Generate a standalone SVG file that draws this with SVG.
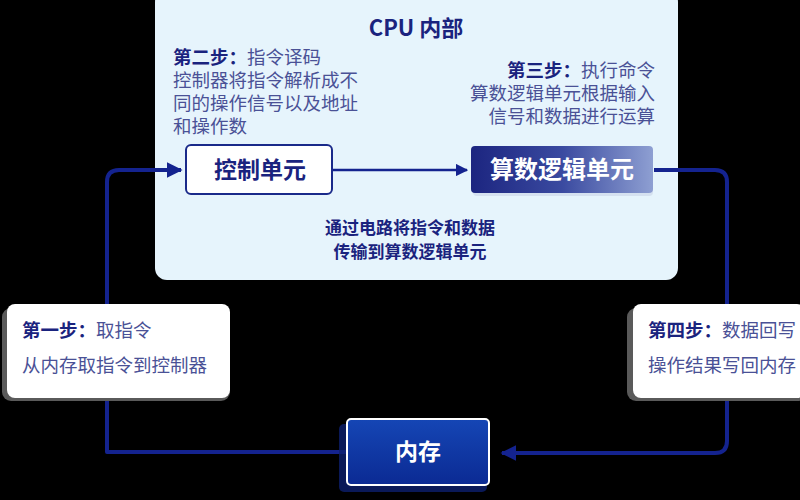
<svg xmlns="http://www.w3.org/2000/svg" width="800" height="500" viewBox="0 0 800 500">
<defs>
<style>
.t{font-family:"Noto Sans CJK SC","Noto Sans",sans-serif}
.b{font-weight:bold;fill:#1a237e}
.r{fill:#4a5196}
.w{fill:#ffffff;font-weight:bold}
.ln{fill:none;stroke:#14238f;stroke-width:4;stroke-linejoin:round}
.ln2{fill:none;stroke:#14238f;stroke-width:2.5}
</style>
<linearGradient id="alu" x1="0" y1="0" x2="1" y2="0">
<stop offset="0" stop-color="#1c2580"/>
<stop offset="0.5" stop-color="#3a4aa0"/>
<stop offset="1" stop-color="#8e9fd2"/>
</linearGradient>
<linearGradient id="mem" x1="0" y1="0" x2="0" y2="1">
<stop offset="0" stop-color="#1546b5"/>
<stop offset="1" stop-color="#0b2a93"/>
</linearGradient>
<marker id="ah" viewBox="0 0 10 10" refX="9" refY="5" markerWidth="4" markerHeight="4" orient="auto" markerUnits="strokeWidth">
<path d="M0,0 L10,5 L0,10 z" fill="#14238f"/>
</marker>
<marker id="ah2" viewBox="0 0 10 10" refX="9" refY="5" markerWidth="5" markerHeight="5" orient="auto" markerUnits="strokeWidth">
<path d="M0,0 L10,5 L0,10 z" fill="#14238f"/>
</marker>
</defs>
<rect x="0" y="0" width="800" height="500" fill="#000000"/>

<g id="cpu">
<rect x="155" y="-10" width="523" height="290" rx="12" fill="#e6f4fc"/>
<text class="t b" x="416" y="36" font-size="22" text-anchor="middle">CPU 内部</text>
</g>

<g id="step2">
<text class="t" x="173" y="64" font-size="18.5"><tspan class="b">第二步：</tspan><tspan class="r">指令译码</tspan></text>
<text class="t r" x="173" y="87" font-size="18.5">控制器将指令解析成不</text>
<text class="t r" x="173" y="110" font-size="18.5">同的操作信号以及地址</text>
<text class="t r" x="173" y="133" font-size="18.5">和操作数</text>
</g>

<g id="step3">
<text class="t" x="655" y="77" font-size="18.5" text-anchor="end"><tspan class="b">第三步：</tspan><tspan class="r">执行命令</tspan></text>
<text class="t r" x="655" y="100" font-size="18.5" text-anchor="end">算数逻辑单元根据输入</text>
<text class="t r" x="655" y="123" font-size="18.5" text-anchor="end">信号和数据进行运算</text>
</g>

<g id="note">
<text class="t b" x="410" y="234" font-size="17" text-anchor="middle">通过电路将指令和数据</text>
<text class="t b" x="410" y="258" font-size="17" text-anchor="middle">传输到算数逻辑单元</text>
</g>

<g id="connectors">
<path class="ln" d="M107,305 V182 Q107,170 119,170 H181" marker-end="url(#ah)"/>
<path class="ln" d="M107,398 V452 H347"/>
<path class="ln2" d="M333,170 H467" marker-end="url(#ah2)"/>
<path class="ln" d="M654,170 H715 Q727,170 727,182 V305"/>
<path class="ln" d="M727,398 V441 Q727,453 715,453 H502" marker-end="url(#ah)"/>
</g>

<g id="control">
<rect x="186" y="145" width="146" height="49" rx="5" fill="#ffffff" stroke="#1a2a8a" stroke-width="2"/>
<text class="t b" x="260" y="178" font-size="23" text-anchor="middle">控制单元</text>
</g>

<g id="alu-node">
<rect x="473" y="150" width="180" height="46" rx="4" fill="#c9d4e8" opacity="0.6"/>
<rect x="471" y="146" width="182" height="47" rx="4" fill="url(#alu)"/>
<text class="t w" x="562" y="178" font-size="24" text-anchor="middle">算数逻辑单元</text>
</g>

<g id="step1">
<rect x="2" y="308" width="228" height="93" rx="9" fill="#5a5a5a"/>
<rect x="7" y="304" width="223" height="94" rx="8" fill="#ffffff"/>
<text class="t" x="22" y="337" font-size="18.5"><tspan class="b">第一步：</tspan><tspan class="r">取指令</tspan></text>
<text class="t r" x="22" y="372" font-size="18.5">从内存取指令到控制器</text>
</g>

<g id="step4">
<rect x="627" y="308" width="180" height="93" rx="9" fill="#5a5a5a"/>
<rect x="633" y="304" width="172" height="94" rx="8" fill="#ffffff"/>
<text class="t" x="648" y="337" font-size="18.5"><tspan class="b">第四步：</tspan><tspan class="r">数据回写</tspan></text>
<text class="t r" x="648" y="372" font-size="18.5">操作结果写回内存</text>
</g>

<g id="memory">
<rect x="339" y="424" width="148" height="68" rx="5" fill="#0c1f6e" opacity="0.8"/>
<rect x="347" y="419" width="142" height="66" rx="4" fill="url(#mem)" stroke="#ffffff" stroke-width="2"/>
<text class="t w" x="418" y="460" font-size="23" text-anchor="middle">内存</text>
</g>
</svg>
